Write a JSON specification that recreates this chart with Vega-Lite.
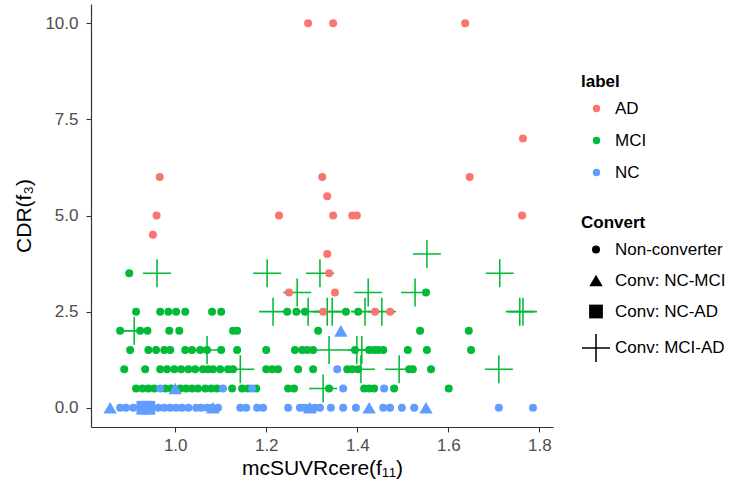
{
  "$schema": "https://vega.github.io/schema/vega-lite/v6.json",
  "autosize": "none",
  "width": 462,
  "height": 423,
  "padding": {"left": 91, "top": 4, "right": 177, "bottom": 61},
  "background": "white",
  "config": {
    "view": {"stroke": null},
    "font": "Liberation Sans",
    "axis": {
      "grid": false,
      "domainColor": "#333333",
      "domainWidth": 1.2,
      "tickColor": "#333333",
      "tickWidth": 1.1,
      "tickSize": 5,
      "labelColor": "#4D4D4D",
      "labelFontSize": 17,
      "labelPadding": 5,
      "titleColor": "#000000",
      "titleFontSize": 21,
      "titleFontWeight": "normal"
    }
  },
  "data": {"values": [
    {"x":0.879,"y":0,"label":"NC","Convert":"Non-converter"},
    {"x":0.892,"y":0,"label":"NC","Convert":"Non-converter"},
    {"x":0.908,"y":0,"label":"NC","Convert":"Non-converter"},
    {"x":0.963,"y":0,"label":"NC","Convert":"Non-converter"},
    {"x":0.976,"y":0,"label":"NC","Convert":"Non-converter"},
    {"x":0.989,"y":0,"label":"NC","Convert":"Non-converter"},
    {"x":1.002,"y":0,"label":"NC","Convert":"Non-converter"},
    {"x":1.015,"y":0,"label":"NC","Convert":"Non-converter"},
    {"x":1.029,"y":0,"label":"NC","Convert":"Non-converter"},
    {"x":1.046,"y":0,"label":"NC","Convert":"Non-converter"},
    {"x":1.057,"y":0,"label":"NC","Convert":"Non-converter"},
    {"x":1.070,"y":0,"label":"NC","Convert":"Non-converter"},
    {"x":1.081,"y":0,"label":"NC","Convert":"Non-converter"},
    {"x":1.094,"y":0,"label":"NC","Convert":"Non-converter"},
    {"x":1.143,"y":0,"label":"NC","Convert":"Non-converter"},
    {"x":1.156,"y":0,"label":"NC","Convert":"Non-converter"},
    {"x":1.180,"y":0,"label":"NC","Convert":"Non-converter"},
    {"x":1.193,"y":0,"label":"NC","Convert":"Non-converter"},
    {"x":1.248,"y":0,"label":"NC","Convert":"Non-converter"},
    {"x":1.274,"y":0,"label":"NC","Convert":"Non-converter"},
    {"x":1.283,"y":0,"label":"NC","Convert":"Non-converter"},
    {"x":1.294,"y":0,"label":"NC","Convert":"Non-converter"},
    {"x":1.307,"y":0,"label":"NC","Convert":"Non-converter"},
    {"x":1.318,"y":0,"label":"NC","Convert":"Non-converter"},
    {"x":1.342,"y":0,"label":"NC","Convert":"Non-converter"},
    {"x":1.369,"y":0,"label":"NC","Convert":"Non-converter"},
    {"x":1.397,"y":0,"label":"NC","Convert":"Non-converter"},
    {"x":1.457,"y":0,"label":"NC","Convert":"Non-converter"},
    {"x":1.472,"y":0,"label":"NC","Convert":"Non-converter"},
    {"x":1.498,"y":0,"label":"NC","Convert":"Non-converter"},
    {"x":1.525,"y":0,"label":"NC","Convert":"Non-converter"},
    {"x":1.711,"y":0,"label":"NC","Convert":"Non-converter"},
    {"x":1.786,"y":0,"label":"NC","Convert":"Non-converter"},
    {"x":0.930,"y":0,"label":"NC","Convert":"Conv: NC-AD"},
    {"x":0.941,"y":0,"label":"NC","Convert":"Conv: NC-AD"},

    {"x":0.899,"y":3.5,"label":"MCI","Convert":"Non-converter"},
    {"x":1.551,"y":3.0,"label":"MCI","Convert":"Non-converter"},
    {"x":0.914,"y":2.5,"label":"MCI","Convert":"Non-converter"},
    {"x":0.967,"y":2.5,"label":"MCI","Convert":"Non-converter"},
    {"x":0.985,"y":2.5,"label":"MCI","Convert":"Non-converter"},
    {"x":1.002,"y":2.5,"label":"MCI","Convert":"Non-converter"},
    {"x":1.022,"y":2.5,"label":"MCI","Convert":"Non-converter"},
    {"x":1.081,"y":2.5,"label":"MCI","Convert":"Non-converter"},
    {"x":1.101,"y":2.5,"label":"MCI","Convert":"Non-converter"},
    {"x":1.246,"y":2.5,"label":"MCI","Convert":"Non-converter"},
    {"x":1.266,"y":2.5,"label":"MCI","Convert":"Non-converter"},
    {"x":1.285,"y":2.5,"label":"MCI","Convert":"Non-converter"},
    {"x":1.375,"y":2.5,"label":"MCI","Convert":"Non-converter"},
    {"x":1.402,"y":2.5,"label":"MCI","Convert":"Non-converter"},
    {"x":0.879,"y":2.0,"label":"MCI","Convert":"Non-converter"},
    {"x":0.923,"y":2.0,"label":"MCI","Convert":"Non-converter"},
    {"x":0.939,"y":2.0,"label":"MCI","Convert":"Non-converter"},
    {"x":0.987,"y":2.0,"label":"MCI","Convert":"Non-converter"},
    {"x":1.009,"y":2.0,"label":"MCI","Convert":"Non-converter"},
    {"x":1.127,"y":2.0,"label":"MCI","Convert":"Non-converter"},
    {"x":1.136,"y":2.0,"label":"MCI","Convert":"Non-converter"},
    {"x":1.314,"y":2.0,"label":"MCI","Convert":"Non-converter"},
    {"x":1.538,"y":2.0,"label":"MCI","Convert":"Non-converter"},
    {"x":1.645,"y":2.0,"label":"MCI","Convert":"Non-converter"},
    {"x":0.901,"y":1.5,"label":"MCI","Convert":"Non-converter"},
    {"x":0.941,"y":1.5,"label":"MCI","Convert":"Non-converter"},
    {"x":0.958,"y":1.5,"label":"MCI","Convert":"Non-converter"},
    {"x":0.976,"y":1.5,"label":"MCI","Convert":"Non-converter"},
    {"x":0.989,"y":1.5,"label":"MCI","Convert":"Non-converter"},
    {"x":1.022,"y":1.5,"label":"MCI","Convert":"Non-converter"},
    {"x":1.037,"y":1.5,"label":"MCI","Convert":"Non-converter"},
    {"x":1.055,"y":1.5,"label":"MCI","Convert":"Non-converter"},
    {"x":1.070,"y":1.5,"label":"MCI","Convert":"Non-converter"},
    {"x":1.101,"y":1.5,"label":"MCI","Convert":"Non-converter"},
    {"x":1.136,"y":1.5,"label":"MCI","Convert":"Non-converter"},
    {"x":1.200,"y":1.5,"label":"MCI","Convert":"Non-converter"},
    {"x":1.263,"y":1.5,"label":"MCI","Convert":"Non-converter"},
    {"x":1.279,"y":1.5,"label":"MCI","Convert":"Non-converter"},
    {"x":1.290,"y":1.5,"label":"MCI","Convert":"Non-converter"},
    {"x":1.303,"y":1.5,"label":"MCI","Convert":"Non-converter"},
    {"x":1.395,"y":1.5,"label":"MCI","Convert":"Non-converter"},
    {"x":1.426,"y":1.5,"label":"MCI","Convert":"Non-converter"},
    {"x":1.437,"y":1.5,"label":"MCI","Convert":"Non-converter"},
    {"x":1.446,"y":1.5,"label":"MCI","Convert":"Non-converter"},
    {"x":1.457,"y":1.5,"label":"MCI","Convert":"Non-converter"},
    {"x":1.511,"y":1.5,"label":"MCI","Convert":"Non-converter"},
    {"x":1.553,"y":1.5,"label":"MCI","Convert":"Non-converter"},
    {"x":1.650,"y":1.5,"label":"MCI","Convert":"Non-converter"},
    {"x":0.888,"y":1.0,"label":"MCI","Convert":"Non-converter"},
    {"x":0.934,"y":1.0,"label":"MCI","Convert":"Non-converter"},
    {"x":0.967,"y":1.0,"label":"MCI","Convert":"Non-converter"},
    {"x":0.982,"y":1.0,"label":"MCI","Convert":"Non-converter"},
    {"x":0.998,"y":1.0,"label":"MCI","Convert":"Non-converter"},
    {"x":1.013,"y":1.0,"label":"MCI","Convert":"Non-converter"},
    {"x":1.029,"y":1.0,"label":"MCI","Convert":"Non-converter"},
    {"x":1.044,"y":1.0,"label":"MCI","Convert":"Non-converter"},
    {"x":1.061,"y":1.0,"label":"MCI","Convert":"Non-converter"},
    {"x":1.072,"y":1.0,"label":"MCI","Convert":"Non-converter"},
    {"x":1.083,"y":1.0,"label":"MCI","Convert":"Non-converter"},
    {"x":1.099,"y":1.0,"label":"MCI","Convert":"Non-converter"},
    {"x":1.116,"y":1.0,"label":"MCI","Convert":"Non-converter"},
    {"x":1.127,"y":1.0,"label":"MCI","Convert":"Non-converter"},
    {"x":1.200,"y":1.0,"label":"MCI","Convert":"Non-converter"},
    {"x":1.213,"y":1.0,"label":"MCI","Convert":"Non-converter"},
    {"x":1.226,"y":1.0,"label":"MCI","Convert":"Non-converter"},
    {"x":1.270,"y":1.0,"label":"MCI","Convert":"Non-converter"},
    {"x":1.303,"y":1.0,"label":"MCI","Convert":"Non-converter"},
    {"x":1.378,"y":1.0,"label":"MCI","Convert":"Non-converter"},
    {"x":1.389,"y":1.0,"label":"MCI","Convert":"Non-converter"},
    {"x":1.402,"y":1.0,"label":"MCI","Convert":"Non-converter"},
    {"x":1.514,"y":1.0,"label":"MCI","Convert":"Non-converter"},
    {"x":1.522,"y":1.0,"label":"MCI","Convert":"Non-converter"},
    {"x":1.562,"y":1.0,"label":"MCI","Convert":"Non-converter"},
    {"x":0.914,"y":0.5,"label":"MCI","Convert":"Non-converter"},
    {"x":0.928,"y":0.5,"label":"MCI","Convert":"Non-converter"},
    {"x":0.941,"y":0.5,"label":"MCI","Convert":"Non-converter"},
    {"x":0.954,"y":0.5,"label":"MCI","Convert":"Non-converter"},
    {"x":0.978,"y":0.5,"label":"MCI","Convert":"Non-converter"},
    {"x":0.991,"y":0.5,"label":"MCI","Convert":"Non-converter"},
    {"x":1.011,"y":0.5,"label":"MCI","Convert":"Non-converter"},
    {"x":1.024,"y":0.5,"label":"MCI","Convert":"Non-converter"},
    {"x":1.037,"y":0.5,"label":"MCI","Convert":"Non-converter"},
    {"x":1.050,"y":0.5,"label":"MCI","Convert":"Non-converter"},
    {"x":1.066,"y":0.5,"label":"MCI","Convert":"Non-converter"},
    {"x":1.079,"y":0.5,"label":"MCI","Convert":"Non-converter"},
    {"x":1.092,"y":0.5,"label":"MCI","Convert":"Non-converter"},
    {"x":1.125,"y":0.5,"label":"MCI","Convert":"Non-converter"},
    {"x":1.147,"y":0.5,"label":"MCI","Convert":"Non-converter"},
    {"x":1.160,"y":0.5,"label":"MCI","Convert":"Non-converter"},
    {"x":1.178,"y":0.5,"label":"MCI","Convert":"Non-converter"},
    {"x":1.248,"y":0.5,"label":"MCI","Convert":"Non-converter"},
    {"x":1.261,"y":0.5,"label":"MCI","Convert":"Non-converter"},
    {"x":1.338,"y":0.5,"label":"MCI","Convert":"Non-converter"},
    {"x":1.415,"y":0.5,"label":"MCI","Convert":"Non-converter"},
    {"x":1.426,"y":0.5,"label":"MCI","Convert":"Non-converter"},
    {"x":1.437,"y":0.5,"label":"MCI","Convert":"Non-converter"},
    {"x":1.481,"y":0.5,"label":"MCI","Convert":"Non-converter"},
    {"x":1.601,"y":0.5,"label":"MCI","Convert":"Non-converter"},

    {"x":0.967,"y":0.5,"label":"NC","Convert":"Non-converter"},
    {"x":1.105,"y":0.5,"label":"NC","Convert":"Non-converter"},
    {"x":1.169,"y":0.5,"label":"NC","Convert":"Non-converter"},
    {"x":1.369,"y":0.5,"label":"NC","Convert":"Non-converter"},
    {"x":1.459,"y":0.5,"label":"NC","Convert":"Non-converter"},
    {"x":1.356,"y":1.0,"label":"NC","Convert":"Non-converter"},
    {"x":0.857,"y":0,"label":"NC","Convert":"Conv: NC-MCI"},
    {"x":1.083,"y":0,"label":"NC","Convert":"Conv: NC-MCI"},
    {"x":1.296,"y":0,"label":"NC","Convert":"Conv: NC-MCI"},
    {"x":1.426,"y":0,"label":"NC","Convert":"Conv: NC-MCI"},
    {"x":1.551,"y":0,"label":"NC","Convert":"Conv: NC-MCI"},
    {"x":1.000,"y":0.5,"label":"NC","Convert":"Conv: NC-MCI"},
    {"x":1.364,"y":2.0,"label":"NC","Convert":"Conv: NC-MCI"},

    {"x":1.553,"y":4.0,"label":"MCI","Convert":"Conv: MCI-AD"},
    {"x":0.960,"y":3.5,"label":"MCI","Convert":"Conv: MCI-AD"},
    {"x":1.202,"y":3.5,"label":"MCI","Convert":"Conv: MCI-AD"},
    {"x":1.318,"y":3.5,"label":"MCI","Convert":"Conv: MCI-AD"},
    {"x":1.713,"y":3.5,"label":"MCI","Convert":"Conv: MCI-AD"},
    {"x":1.268,"y":3.0,"label":"MCI","Convert":"Conv: MCI-AD"},
    {"x":1.424,"y":3.0,"label":"MCI","Convert":"Conv: MCI-AD"},
    {"x":1.527,"y":3.0,"label":"MCI","Convert":"Conv: MCI-AD"},
    {"x":1.215,"y":2.5,"label":"MCI","Convert":"Conv: MCI-AD"},
    {"x":1.292,"y":2.5,"label":"MCI","Convert":"Conv: MCI-AD"},
    {"x":1.334,"y":2.5,"label":"MCI","Convert":"Conv: MCI-AD"},
    {"x":1.345,"y":2.5,"label":"MCI","Convert":"Conv: MCI-AD"},
    {"x":1.417,"y":2.5,"label":"MCI","Convert":"Conv: MCI-AD"},
    {"x":1.454,"y":2.5,"label":"MCI","Convert":"Conv: MCI-AD"},
    {"x":1.757,"y":2.5,"label":"MCI","Convert":"Conv: MCI-AD"},
    {"x":1.764,"y":2.5,"label":"MCI","Convert":"Conv: MCI-AD"},
    {"x":0.910,"y":2.0,"label":"MCI","Convert":"Conv: MCI-AD"},
    {"x":1.070,"y":1.5,"label":"MCI","Convert":"Conv: MCI-AD"},
    {"x":1.338,"y":1.5,"label":"MCI","Convert":"Conv: MCI-AD"},
    {"x":1.399,"y":1.5,"label":"MCI","Convert":"Conv: MCI-AD"},
    {"x":1.410,"y":1.5,"label":"MCI","Convert":"Conv: MCI-AD"},
    {"x":1.143,"y":1.0,"label":"MCI","Convert":"Conv: MCI-AD"},
    {"x":1.408,"y":1.0,"label":"MCI","Convert":"Conv: MCI-AD"},
    {"x":1.492,"y":1.0,"label":"MCI","Convert":"Conv: MCI-AD"},
    {"x":1.711,"y":1.0,"label":"MCI","Convert":"Conv: MCI-AD"},
    {"x":1.325,"y":0.5,"label":"MCI","Convert":"Conv: MCI-AD"},

    {"x":1.292,"y":10,"label":"AD","Convert":"Non-converter"},
    {"x":1.347,"y":10,"label":"AD","Convert":"Non-converter"},
    {"x":1.637,"y":10,"label":"AD","Convert":"Non-converter"},
    {"x":1.764,"y":7,"label":"AD","Convert":"Non-converter"},
    {"x":0.966,"y":6,"label":"AD","Convert":"Non-converter"},
    {"x":1.323,"y":6,"label":"AD","Convert":"Non-converter"},
    {"x":1.647,"y":6,"label":"AD","Convert":"Non-converter"},
    {"x":1.334,"y":5.5,"label":"AD","Convert":"Non-converter"},
    {"x":0.959,"y":5,"label":"AD","Convert":"Non-converter"},
    {"x":1.228,"y":5,"label":"AD","Convert":"Non-converter"},
    {"x":1.347,"y":5,"label":"AD","Convert":"Non-converter"},
    {"x":1.389,"y":5,"label":"AD","Convert":"Non-converter"},
    {"x":1.399,"y":5,"label":"AD","Convert":"Non-converter"},
    {"x":1.762,"y":5,"label":"AD","Convert":"Non-converter"},
    {"x":0.951,"y":4.5,"label":"AD","Convert":"Non-converter"},
    {"x":1.334,"y":4,"label":"AD","Convert":"Non-converter"},
    {"x":1.338,"y":3.5,"label":"AD","Convert":"Non-converter"},
    {"x":1.250,"y":3,"label":"AD","Convert":"Non-converter"},
    {"x":1.351,"y":3,"label":"AD","Convert":"Non-converter"},
    {"x":1.325,"y":2.5,"label":"AD","Convert":"Non-converter"},
    {"x":1.439,"y":2.5,"label":"AD","Convert":"Non-converter"},
    {"x":1.472,"y":2.5,"label":"AD","Convert":"Non-converter"}
  ]},
  "mark": {"type": "point", "filled": true, "opacity": 1, "strokeWidth": 0},
  "encoding": {
    "x": {"field": "x", "type": "quantitative", "title": "mcSUVRcere(f₁₁)",
      "scale": {"domain": [0.815, 1.83], "nice": false, "zero": false},
      "axis": {"values": [1.0, 1.2, 1.4, 1.6, 1.8], "format": ".1f", "titlePadding": 4, "labelPadding": 5}},
    "y": {"field": "y", "type": "quantitative", "title": "CDR(f₃)",
      "scale": {"domain": [-0.5, 10.5], "nice": false, "zero": false},
      "axis": {"values": [0, 2.5, 5, 7.5, 10], "format": ".1f", "titlePadding": 10, "labelPadding": 8}},
    "color": {"field": "label", "type": "nominal",
      "scale": {"domain": ["AD", "MCI", "NC"], "range": ["#F8766D", "#00BA38", "#619CFF"]},
      "legend": {"orient": "none", "legendX": 490, "legendY": 70, "title": "label",
        "titleFontSize": 17, "titleFontWeight": "bold", "titleColor": "#000000", "titlePadding": 9,
        "labelFontSize": 17, "labelColor": "#000000", "symbolSize": 55, "symbolType": "circle",
        "symbolOffset": 7, "labelOffset": 10, "rowPadding": 14, "padding": 0, "symbolStrokeWidth": 0}},
    "shape": {"field": "Convert", "type": "nominal",
      "scale": {"domain": ["Non-converter", "Conv: NC-MCI", "Conv: NC-AD", "Conv: MCI-AD"],
        "range": ["circle", "triangle-up", "square", "M-1,-0.055L1,-0.055L1,0.055L-1,0.055Z M-0.055,-1L0.055,-1L0.055,1L-0.055,1Z"]},
      "legend": {"orient": "none", "legendX": 490, "legendY": 211, "title": "Convert",
        "titleFontSize": 17, "titleFontWeight": "bold", "titleColor": "#000000", "titlePadding": 9,
        "labelFontSize": 17, "labelColor": "#000000", "symbolOffset": 1, "labelOffset": 5,
        "rowPadding": 2, "padding": 0, "gridAlign": "all", "symbolFillColor": "#000000",
        "symbolStrokeWidth": 0}},
    "size": {"field": "Convert", "type": "nominal",
      "scale": {"type": "ordinal", "domain": ["Non-converter", "Conv: NC-MCI", "Conv: NC-AD", "Conv: MCI-AD"],
        "range": [64, 180, 190, 784]}}
  }
}
